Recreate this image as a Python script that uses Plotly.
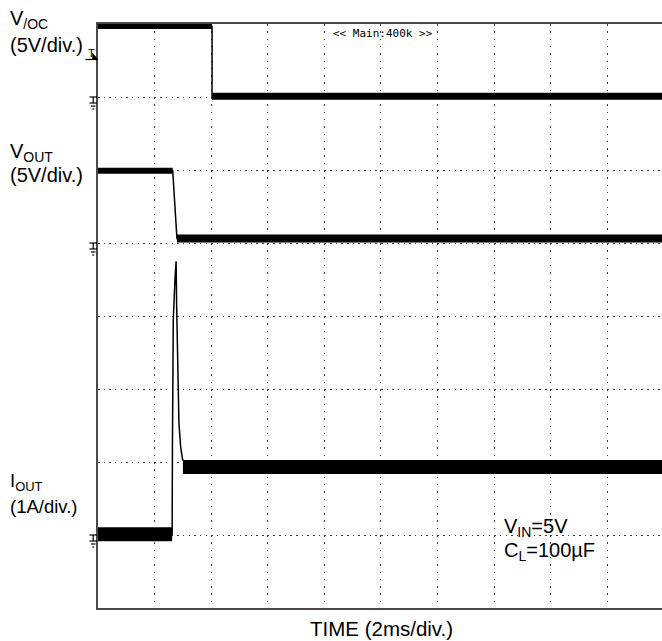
import plotly.graph_objects as go

# ---------------- data (time in ms) ----------------
t_voc = [0.0, 4.03, 4.03, 19.93]
v_voc = [4.83, 4.83, 0.05, 0.05]          # V

t_vout = [0.0, 2.64, 2.79, 19.93]
v_vout = [4.95, 4.95, 0.3, 0.3]            # V

t_iout = [0.0, 2.62, 2.63, 2.66, 2.72, 2.76, 2.78, 2.82, 2.86, 2.92, 2.99, 3.25, 19.93]
i_iout = [0.01, 0.01, 1.2, 2.95, 3.5, 3.75, 3.12, 2.12, 1.53, 1.21, 1.03, 0.96, 0.93]  # A

# noisy steady-state bands (start, end, level)
voc_band_start = [0.0, 4.03]
voc_band_end = [4.03, 19.93]
voc_band_level = [4.83, 0.05]

vout_band_start = [0.0, 2.79]
vout_band_end = [2.64, 19.93]
vout_band_level = [4.95, 0.3]

iout_band_start = [0.0, 3.0]
iout_band_end = [2.62, 19.93]
iout_band_level = [0.01, 0.93]

# channel settings: volts (amps) per division and ground position (div)
voc_scale, voc_ground = 5.0, 7
vout_scale, vout_ground = 5.0, 5
iout_scale, iout_ground = 1.0, 1

x_ticks = [0, 2, 4, 6, 8, 10, 12, 14, 16, 18]
div_ticks = [0, 1, 2, 3, 4, 5, 6, 7, 8]

# ---------------- figure ----------------
W, H = 662, 641
L, R, T, B = 98, 0, 24, 33
PW, PH = W - L - R, H - T - B

def px(x):
    return (x - L) / PW

def py(y):
    return (H - B - y) / PH

fig = go.Figure()

def add_channel(t, v, starts, ends, levels, widths, scale, ground):
    to_div = lambda vals: [ground + val / scale for val in vals]
    for s, e, lv, w in zip(starts, ends, levels, widths):
        fig.add_trace(go.Scatter(x=[s, e], y=to_div([lv, lv]), mode="lines",
                                 line=dict(color="black", width=w), hoverinfo="skip",
                                 showlegend=False))
    fig.add_trace(go.Scatter(x=t, y=to_div(v), mode="lines",
                             line=dict(color="black", width=1.5), hoverinfo="skip",
                             showlegend=False))

add_channel(t_voc, v_voc, voc_band_start, voc_band_end, voc_band_level, [5, 7],
            voc_scale, voc_ground)
add_channel(t_vout, v_vout, vout_band_start, vout_band_end, vout_band_level, [6, 8],
            vout_scale, vout_ground)
add_channel(t_iout, i_iout, iout_band_start, iout_band_end, iout_band_level, [14, 14],
            iout_scale, iout_ground)

font = "Liberation Sans, Arial, Helvetica, sans-serif"
grid_col = "#3a3a3a"

fig.update_layout(
    width=W, height=H,
    margin=dict(l=L, r=R, t=T, b=B, pad=0),
    paper_bgcolor="white", plot_bgcolor="white",
    showlegend=False,
    xaxis=dict(range=[0, 19.93], tickvals=x_ticks, showticklabels=False, ticks="",
               showgrid=True, gridcolor=grid_col, gridwidth=1, griddash="1.5px,5.8px",
               zeroline=False, showline=True, linecolor="#4a4a4a", linewidth=2, mirror=True),
    yaxis=dict(range=[0, 8], tickvals=div_ticks, showticklabels=False, ticks="",
               showgrid=True, gridcolor=grid_col, gridwidth=1, griddash="1.5px,4.16px",
               zeroline=False, showline=True, linecolor="#4a4a4a", linewidth=2),
)

ann = []
def label(text, x, y, size, xanchor="left", family=font):
    ann.append(dict(text=text, x=px(x), y=py(y), xref="paper", yref="paper",
                    xanchor=xanchor, yanchor="middle", showarrow=False,
                    font=dict(family=family, size=size, color="black")))

label("V<sub>/OC</sub>", 8, 19, 20)
label("(5V/div.)", 8, 45.5, 20)
label("V<sub>OUT</sub>", 8, 152, 20)
label("(5V/div.)", 8, 175.5, 20)
label("I<sub>OUT</sub>", 8, 482, 18.5)
label("(1A/div.)", 8, 506, 18.5)
label("V<sub>IN</sub>=5V", 502, 527, 20)
label("C<sub>L</sub>=100µF", 502, 551, 20)
label("TIME (2ms/div.)", 381, 628, 20.5, xanchor="center")
label("&lt;&lt; Main:400k &gt;&gt;", 383, 33, 11, xanchor="center",
      family="DejaVu Sans Mono, monospace")
label("T", 86, 53, 11)
fig.update_layout(annotations=ann)

shapes = []
def seg(x0, y0, x1, y1, w=1.2):
    shapes.append(dict(type="line", xref="paper", yref="paper",
                       x0=px(x0), y0=py(y0), x1=px(x1), y1=py(y1),
                       line=dict(color="black", width=w)))

# ground markers
for gy in (97, 243, 535):
    seg(89.5, gy, 97, gy)
    seg(93.2, gy, 93.2, gy + 6)
    seg(89.5, gy + 6, 97, gy + 6)
    seg(91, gy + 9, 95.5, gy + 9)
    seg(92.3, gy + 12, 94.2, gy + 12)

# trigger marker
seg(85.5, 59.5, 98, 59.5)
shapes.append(dict(type="path", xref="paper", yref="paper",
                   path=f"M {px(92.5)},{py(53)} L {px(98)},{py(59.5)} L {px(92.5)},{py(59.5)} Z",
                   fillcolor="black", line=dict(color="black", width=0.5)))
fig.update_layout(shapes=shapes)

fig.write_html("out.html", config={"displayModeBar": False},
               post_script="document.body.style.margin='0';")
